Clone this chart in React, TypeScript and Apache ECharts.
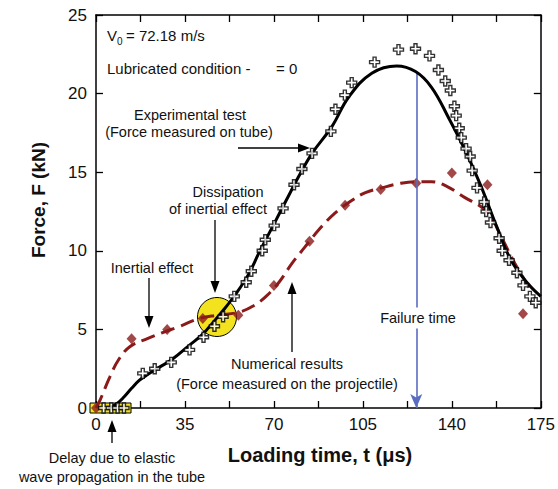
import React, { useEffect, useRef } from "react";
import * as echarts from "echarts";

const FONT = '"Liberation Sans", Arial, Helvetica, sans-serif';

// Axis ranges and labelled ticks
const xMin = 0;
const xMax = 175;
const xTickStep = 17.5;
const xLabelStep = 35;
const yMin = 0;
const yMax = 25;
const yTickStep = 5;

// Experimental test: fitted curve of the force measured on the tube (t in µs, F in kN)
const experimentalCurve: [number, number][] = [
  [5, 0], [8, 0.25], [11, 0.7], [14, 1.25], [17, 1.75], [20, 2.1], [25, 2.6],
  [30, 3.1], [36.8, 4.0], [42, 4.7], [45.8, 5.4], [50, 6.2], [55.2, 7.3],
  [60, 8.5], [64.2, 9.9], [70, 11.7], [74.8, 13.2], [80, 14.8], [85, 16.2],
  [92.8, 17.9], [99.5, 19.8], [108.5, 21.3], [118.3, 21.76], [125.7, 21.4],
  [132, 20.4], [138.6, 18.5], [145.2, 16.4], [151.5, 14.1], [158, 11.4],
  [163.3, 9.4], [170, 7.9], [175, 7.1],
];

// Experimental test: measured points
const experimentalPoints: [number, number][] = [
  [3, 0], [6, 0], [8.5, 0], [11, 0],
  [18.4, 2.2], [23.1, 2.5], [29.6, 2.9], [36.8, 3.7], [42.3, 4.5], [46.6, 5.2],
  [50, 5.8], [54.4, 7.1], [59.1, 8.0], [61.1, 8.7], [65.4, 10.0], [66.6, 10.7],
  [70.1, 11.6], [73.6, 12.7], [77.9, 14.2], [81, 15.2], [85, 16.2], [92.4, 17.6],
  [94.2, 19.0], [97.9, 19.9], [100.6, 20.7], [109.6, 22.0], [119, 22.8],
  [125.7, 22.85], [131.2, 22.4], [134.7, 21.5], [137.4, 20.8], [139.4, 20.2],
  [141, 19.2], [141.7, 18.6], [142.9, 17.8], [143.7, 17.2], [145.6, 16.5],
  [147.2, 16.0], [148, 15.1], [149.9, 14.0], [152.7, 13.1], [153.5, 12.5],
  [155.2, 11.8], [158.6, 10.8], [159.8, 10.0], [162.5, 9.4], [165.6, 8.6],
  [168, 7.8], [170.7, 7.1], [173, 6.7],
];

// Numerical results: force measured on the projectile (trend curve)
const numericalCurve: [number, number][] = [
  [0, 0], [1.6, 0.5], [5.5, 2.0], [9, 3.1], [13.3, 3.9], [20, 4.4], [26.2, 4.8],
  [33, 5.2], [40.7, 5.7], [48, 5.9], [56.4, 6.1], [62, 6.5], [66.9, 7.1],
  [72, 8.0], [77.1, 9.2], [82, 10.2], [88, 11.4], [94, 12.4], [100.6, 13.2],
  [106, 13.7], [112.4, 14.0], [120, 14.3], [126, 14.4], [132, 14.4], [138, 14.1],
  [145, 13.4], [151.5, 12.8], [155.4, 12.2], [158.2, 11.3], [164.8, 9.2],
  [171, 7.5],
];

// Numerical results: computed points
const numericalPoints: [number, number][] = [
  [0, 0], [14, 4.4], [28, 5.0], [42, 5.7], [56, 5.9], [70, 7.8], [84, 10.6],
  [98, 12.9], [112, 13.9], [126, 14.3], [140, 14.95], [154, 14.2], [168, 6.0],
];

// Failure instant and force on the fitted curve at that instant
const failureTime = 126;
const failureForce = 21.3;

const PLUS =
  "path://M3.5,0H6.5V3.5H10V6.5H6.5V10H3.5V6.5H0V3.5H3.5Z";

function arrow(
  x1: number, y1: number, x2: number, y2: number,
  color = "#000", head = 12, hw = 4.5
) {
  const dx = x2 - x1;
  const dy = y2 - y1;
  const len = Math.hypot(dx, dy);
  const ux = dx / len;
  const uy = dy / len;
  const bx = x2 - ux * head;
  const by = y2 - uy * head;
  const px = -uy;
  const py = ux;
  return [
    {
      type: "line",
      shape: { x1, y1, x2: bx + ux * 1, y2: by + uy * 1 },
      style: { stroke: color, lineWidth: 1.3 },
      z: 20,
    },
    {
      type: "polygon",
      shape: {
        points: [
          [x2, y2],
          [bx + px * hw, by + py * hw],
          [bx - px * hw, by - py * hw],
        ],
      },
      style: { fill: color },
      z: 20,
    },
  ];
}

function label(text: string, x: number, y: number, opts: any = {}) {
  return {
    type: "text",
    x,
    y,
    z: 20,
    rotation: opts.rotation || 0,
    style: {
      text,
      fill: "#111",
      font: `${opts.weight || "normal"} ${opts.size || 14.5}px ${FONT}`,
      align: opts.align || "center",
      verticalAlign: "middle",
      backgroundColor: opts.bg,
      padding: opts.padding,
    },
  };
}

export default function App() {
  const ref = useRef<HTMLDivElement>(null);

  useEffect(() => {
    if (!ref.current) return;
    const chart = echarts.init(ref.current, undefined, { renderer: "svg" });

    const axisCommon = {
      type: "value",
      axisLine: { show: true, onZero: false, lineStyle: { color: "#000", width: 1.5 } },
      axisTick: { show: true, inside: true, length: 7, lineStyle: { color: "#000", width: 1.3 } },
      splitLine: { show: false },
    };

    chart.setOption({
      animation: false,
      backgroundColor: "#fff",
      grid: { left: 96, top: 15, right: 15, bottom: 81 },
      xAxis: [
        {
          ...axisCommon,
          position: "bottom",
          min: xMin,
          max: xMax,
          interval: xTickStep,
          axisLabel: {
            color: "#111",
            fontSize: 17,
            fontFamily: FONT,
            margin: 8,
            formatter: (v: number) => (v % xLabelStep === 0 ? String(v) : ""),
          },
        },
        {
          ...axisCommon,
          position: "top",
          min: xMin,
          max: xMax,
          interval: xTickStep,
          axisLabel: { show: false },
        },
      ],
      yAxis: [
        {
          ...axisCommon,
          position: "left",
          min: yMin,
          max: yMax,
          interval: yTickStep,
          axisLabel: { color: "#111", fontSize: 17, fontFamily: FONT, margin: 9 },
        },
        {
          ...axisCommon,
          position: "right",
          min: yMin,
          max: yMax,
          interval: yTickStep,
          axisLabel: { show: false },
        },
      ],
      series: [
        {
          name: "Numerical trend",
          type: "line",
          data: numericalCurve,
          smooth: 0.4,
          showSymbol: false,
          symbol: "none",
          lineStyle: { color: "#8b1a1a", width: 3, type: [14, 7] },
          z: 3,
        },
        {
          name: "Numerical results",
          type: "scatter",
          data: numericalPoints,
          symbol: "diamond",
          symbolSize: [10, 11],
          itemStyle: { color: "#8b1a1a" },
          z: 4,
        },
        {
          name: "Experimental curve",
          type: "line",
          data: experimentalCurve,
          smooth: 0.4,
          showSymbol: false,
          symbol: "none",
          lineStyle: { color: "#000", width: 3 },
          z: 5,
        },
        {
          name: "Experimental test",
          type: "scatter",
          data: experimentalPoints,
          symbol: PLUS,
          symbolSize: 10,
          itemStyle: { color: "#fff", borderColor: "#000", borderWidth: 1.4 },
          z: 6,
        },
        {
          name: "Failure time",
          type: "line",
          data: [],
          z: 7,
          markLine: {
            silent: true,
            symbol: ["none", "arrow"],
            symbolSize: [9, 14],
            label: { show: false },
            lineStyle: { color: "#5a6cc0", width: 1.6, type: "solid" },
            data: [[{ coord: [failureTime, failureForce] }, { coord: [failureTime, 0] }]],
          },
        },
      ],
      graphic: [
        // highlighted zones
        {
          type: "rect",
          shape: { x: 90, y: 403, width: 41, height: 10 },
          style: { fill: "#f2e31e", stroke: "#000", lineWidth: 1 },
          z: 1,
        },
        {
          type: "circle",
          shape: { cx: 217, cy: 317, r: 19.5 },
          style: { fill: "#f2e31e", stroke: "#000", lineWidth: 1 },
          z: 1,
        },
        // header notes
        label("V", 107, 35, { align: "left", size: 15 }),
        label("0", 117, 41, { align: "left", size: 10 }),
        label("= 72.18 m/s", 126, 35, { align: "left", size: 15 }),
        label("Lubricated condition -", 107, 68, { align: "left", size: 15 }),
        label("= 0", 276, 68, { align: "left", size: 15 }),
        // annotations
        label("Experimental test", 190, 115),
        label("(Force measured on tube)", 189, 132),
        ...arrow(238, 148, 310, 148),
        label("Dissipation", 228, 192),
        label("of inertial effect", 218, 209),
        ...arrow(215, 220, 215, 293),
        label("Inertial effect", 152, 268),
        ...arrow(149, 278, 149, 328),
        label("Numerical results", 287, 364),
        label("(Force measured on the projectile)", 287, 384),
        ...arrow(292, 352, 292, 282),
        label("Failure time", 418, 318, { bg: "#fff", padding: [3, 2] }),
        label("Delay due to elastic", 112, 458),
        label("wave propagation in the tube", 112, 477),
        ...arrow(112, 443, 112, 420),
        // axis titles
        label("Loading time, t (\u03bcs)", 320, 455, { weight: "bold", size: 20 }),
        label("Force, F (kN)", 38, 200, { weight: "bold", size: 19, rotation: Math.PI / 2 }),
      ],
    });

    return () => chart.dispose();
  }, []);

  return (
    <div
      ref={ref}
      style={{ position: "absolute", left: 0, top: 0, width: 558, height: 489 }}
    />
  );
}
